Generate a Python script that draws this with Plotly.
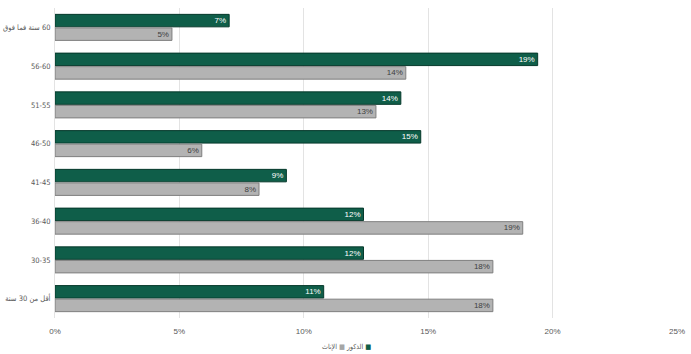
import plotly.graph_objects as go

categories = ["60 سنة فما فوق", "56-60", "51-55", "46-50", "41-45", "36-40", "30-35", "أقل من 30 سنة"]
male = [7.0, 19.4, 13.9, 14.7, 9.3, 12.4, 12.4, 10.8]
female = [4.7, 14.1, 12.9, 5.9, 8.2, 18.8, 17.6, 17.6]
male_name = "الذكور"
female_name = "الإناث"
tick_vals = [0, 5, 10, 15, 20, 25]
tick_text = [f"{v}%" for v in tick_vals]

MALE_C = "#0f5e49"
FEMALE_C = "#b3b3b3"

RLM = "\u200f"
LRM = "\u200e"


def y_label(c):
    if any("\u0600" <= ch <= "\u06ff" for ch in c):
        return RLM + c
    return c


y_ticktext = [y_label(c) for c in categories]

fig = go.Figure()
fig.add_trace(go.Bar(
    y=categories, x=male, name=male_name, orientation="h", showlegend=False,
    marker=dict(color=MALE_C, line=dict(color="#06392b", width=1)),
    text=[f"{round(v)}%" for v in male], textposition="inside", insidetextanchor="end",
    textfont=dict(color="white", size=8, family="Liberation Sans"),
))
fig.add_trace(go.Bar(
    y=categories, x=female, name=female_name, orientation="h", showlegend=False,
    marker=dict(color=FEMALE_C, line=dict(color="#7f7f7f", width=1)),
    text=[f"{round(v)}%" for v in female], textposition="inside", insidetextanchor="end",
    textfont=dict(color="#404040", size=8, family="Liberation Sans"),
))

# Legend drawn as RTL-style text (label then swatch), like the original
legend_text = (
    f"{female_name}{LRM} <span style='color:#a6a6a6'>■</span>{LRM} "
    f"{male_name}{LRM} <span style='color:{MALE_C}'>■</span>"
)

fig.update_layout(
    width=691, height=354,
    margin=dict(l=55, r=14, t=8, b=36),
    barmode="group", bargap=0.3, bargroupgap=0.08,
    plot_bgcolor="white", paper_bgcolor="white",
    font=dict(family="Liberation Sans, DejaVu Sans", size=8, color="#595959"),
    showlegend=False,
    uniformtext=dict(minsize=8, mode="show"),
    annotations=[dict(
        text=legend_text, xref="paper", yref="paper", x=(346 - 55) / 622, y=-0.095,
        xanchor="center", yanchor="middle", showarrow=False,
        font=dict(size=7, color="#595959", family="DejaVu Sans Condensed, DejaVu Sans"),
    )],
)
fig.update_xaxes(range=[0, 25], tickvals=tick_vals, ticktext=tick_text,
                 showgrid=True, gridcolor="#e3e3e3", gridwidth=1, automargin=False,
                 ticks="outside", ticklen=5, tickcolor="rgba(0,0,0,0)",
                 zeroline=False, showline=False, tickfont=dict(size=8, color="#595959"))
fig.update_yaxes(autorange="reversed", showgrid=False, showline=True, linecolor="#e3e3e3",
                 tickvals=categories, ticktext=y_ticktext,
                 ticks="", ticklabelstandoff=2, automargin=False,
                 tickfont=dict(size=7.5, color="#595959", family="DejaVu Sans Condensed, Liberation Sans Narrow, DejaVu Sans"))

fig.write_html("out.html")
